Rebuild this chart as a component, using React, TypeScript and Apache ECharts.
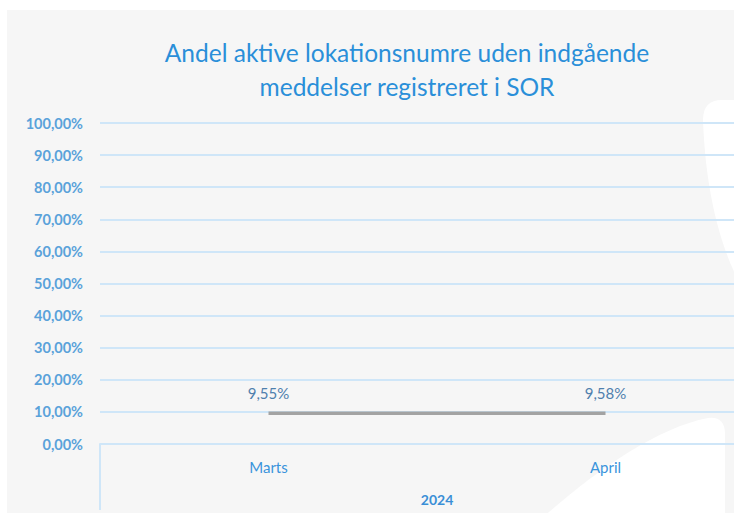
import React, { useEffect, useRef } from "react";
import * as echarts from "echarts";

const titleText = "Andel aktive lokationsnumre uden indgående\nmeddelser registreret i SOR";
const months = ["Marts", "April"];
const years = ["2024"];
const shares = [0.0955, 0.0958];
const yMin = 0;
const yMax = 1;
const yStep = 0.1;

const fmtPct = (v: number) => (v * 100).toFixed(2).replace(".", ",") + "%";

echarts.graphic.registerShape(
  "decoTop",
  echarts.graphic.extendPath(
    "M 703 120 Q 703 100 722 100 L 745 100 L 745 292 C 726 262 706 205 703 120 Z",
    {}
  )
);
echarts.graphic.registerShape(
  "decoBottom",
  echarts.graphic.extendPath(
    "M 540 520 C 590 475 655 428 708 418 Q 725 416 725 434 L 725 520 Z",
    {}
  )
);

export default function App() {
  const ref = useRef<HTMLDivElement>(null);
  useEffect(() => {
    if (!ref.current) return;
    const chart = echarts.init(ref.current, null, { renderer: "svg" });
    const font = "Lato, 'Open Sans', sans-serif";
    chart.setOption({
      animation: false,
      backgroundColor: "#ffffff",
      textStyle: { fontFamily: font },
      title: {
        text: titleText,
        left: 402,
        textAlign: "center",
        top: 30,
        textStyle: {
          color: "#2a8fd9",
          fontSize: 24.5,
          fontWeight: "normal",
          lineHeight: 34,
          fontFamily: font,
        },
      },
      graphic: [
        {
          type: "rect",
          z: -100,
          shape: { x: 7, y: 10, width: 800, height: 503 },
          style: { fill: "#f6f6f6" },
          silent: true,
        },
        { type: "decoTop", z: -99, style: { fill: "#ffffff" }, silent: true },
        { type: "decoBottom", z: -99, style: { fill: "#ffffff" }, silent: true },
      ],
      grid: { left: 100, top: 123, right: 26, height: 321, containLabel: false },
      xAxis: [
        {
          type: "category",
          data: months,
          boundaryGap: true,
          axisLine: { show: true, lineStyle: { color: "#cfe6f8", width: 2 } },
          axisTick: { show: false },
          axisLabel: { color: "#3a94dc", fontSize: 15, margin: 15, fontFamily: font },
          splitLine: { show: false },
        },
        {
          type: "category",
          data: years,
          position: "bottom",
          offset: 0,
          boundaryGap: true,
          axisLine: { show: false },
          axisTick: { show: true, length: 66, lineStyle: { color: "#cfe6f8", width: 2 } },
          axisLabel: { color: "#3a8fd6", fontSize: 14, fontWeight: "bold", margin: 48, fontFamily: font },
        },
      ],
      yAxis: {
        type: "value",
        min: yMin,
        max: yMax,
        interval: yStep,
        axisLine: { show: false },
        axisTick: { show: false },
        axisLabel: {
          color: "#5aa2da",
          fontSize: 14.5,
          fontWeight: "bold",
          margin: 17,
          formatter: (v: number) => fmtPct(v),
          fontFamily: font,
        },
        splitLine: { show: true, lineStyle: { color: "#cfe6f8", width: 2 } },
      },
      series: [
        {
          type: "line",
          xAxisIndex: 0,
          data: shares,
          symbol: "circle",
          symbolSize: 0,
          showSymbol: true,
          lineStyle: { color: "#a3a3a3", width: 3.5 },
          itemStyle: { color: "#a3a3a3" },
          label: {
            show: true,
            position: "top",
            distance: 13,
            color: "#4f80ad",
            fontSize: 15,
            fontFamily: font,
            formatter: (p: any) => fmtPct(p.value),
          },
        },
      ],
    });
    return () => chart.dispose();
  }, []);
  return (
    <div style={{ position: "fixed", left: 0, top: 0, width: 734, height: 515, overflow: "hidden" }}>
      <div ref={ref} style={{ width: 800, height: 515 }} />
    </div>
  );
}
